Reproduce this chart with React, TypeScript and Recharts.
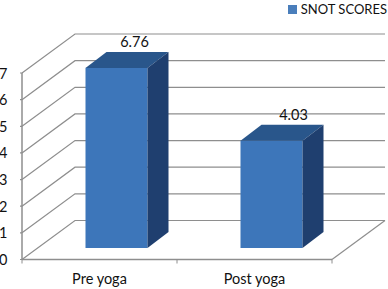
import { BarChart, Bar, XAxis, YAxis, Legend, LabelList, CartesianGrid } from "recharts";

const categories = ["Pre yoga", "Post yoga"];
const snotScores = [6.76, 4.03];
const yTicks = [0, 1, 2, 3, 4, 5, 6, 7];
const seriesName = "SNOT SCORES";

const data = categories.map((name, i) => ({ name, score: snotScores[i] }));

const FONT = "Lato, sans-serif";
const GRID = "#8e8e8e";
const TEXT = "#111111";

// wall depth of the fake 3D box
const WALL_DX = 53;
const WALL_DY = -39;
const PLOT_LEFT = 22;
const PLOT_RIGHT = 332;
const PLOT_BOTTOM = 259.5;
const BAND = (PLOT_RIGHT - PLOT_LEFT) / 2;
// bar sits in the middle of the floor, not on the front edge
const BAR_DX = 16.5;
const BAR_DY = -11.5;
const DEPTH_X = 21;
const DEPTH_Y = -16;

// grid line bent back along the side wall, then across the back wall
function WallLine({ x1, y1 }: any) {
  const isFloor = Math.abs(y1 - PLOT_BOTTOM) < 1;
  return (
    <g>
      <polyline
        points={`${x1},${y1} ${x1 + WALL_DX},${y1 + WALL_DY} ${PLOT_RIGHT + WALL_DX},${y1 + WALL_DY}`}
        fill="none"
        stroke={GRID}
        strokeWidth={1.2}
      />
      {isFloor && (
        <line
          x1={PLOT_RIGHT}
          y1={y1}
          x2={PLOT_RIGHT + WALL_DX}
          y2={y1 + WALL_DY}
          stroke={GRID}
          strokeWidth={1.2}
        />
      )}
    </g>
  );
}

function YTick({ x, y, payload }: any) {
  const axisX = x + 8;
  return (
    <g>
      <line x1={axisX - 2} y1={y} x2={axisX} y2={y} stroke={GRID} strokeWidth={1.2} />
      <text x={7.5} y={y + 5.5} textAnchor="end" fontFamily={FONT} fontSize={14.5} fill={TEXT}>
        {payload.value}
      </text>
    </g>
  );
}

function XTick({ x, y, payload, index }: any) {
  // recharts hands over y 8px below the axis line
  const axisY = y - 8;
  return (
    <g>
      {index === 0 && <line x1={x - BAND / 2} y1={axisY} x2={x - BAND / 2} y2={axisY + 4} stroke={GRID} />}
      <line x1={x + BAND / 2} y1={axisY} x2={x + BAND / 2} y2={axisY + 4} stroke={GRID} />
      <text x={x} y={axisY + 24.5} textAnchor="middle" fontFamily={FONT} fontSize={14.5} fill={TEXT}>
        {payload.value}
      </text>
    </g>
  );
}

function Box3D({ x, y, width, height }: any) {
  const left = x + BAR_DX;
  const right = left + width;
  const top = y + BAR_DY;
  const bottom = top + height;
  return (
    <g>
      <rect x={left} y={top} width={width} height={height} fill="#3d76ba" />
      <polygon
        points={`${left},${top} ${left + DEPTH_X},${top + DEPTH_Y} ${right + DEPTH_X},${top + DEPTH_Y} ${right},${top}`}
        fill="#29568b"
      />
      <polygon
        points={`${right},${top} ${right + DEPTH_X},${top + DEPTH_Y} ${right + DEPTH_X},${bottom + DEPTH_Y} ${right},${bottom}`}
        fill="#1f3f6f"
      />
    </g>
  );
}

function ValueLabel({ x, y, width, value, index }: any) {
  const shift = index === 0 ? 18 : 22;
  return (
    <text
      x={x + BAR_DX + width / 2 + shift}
      y={y + BAR_DY - 21}
      textAnchor="middle"
      fontFamily={FONT}
      fontSize={14.5}
      fill={TEXT}
    >
      {value}
    </text>
  );
}

// zero height so the legend doesn't eat into the plot area
function LegendBox() {
  return (
    <div style={{ height: 0, overflow: "visible" }}>
      <div style={{ display: "flex", alignItems: "center", justifyContent: "flex-end", fontFamily: FONT, fontSize: 13, color: TEXT, whiteSpace: "nowrap" }}>
        <span style={{ flex: "none", width: 9, height: 9, background: "#4a7ebb", marginRight: 4 }} />
        {seriesName}
      </div>
    </div>
  );
}

export default function App() {
  return (
    <div style={{ position: "absolute", left: 0, top: 0, width: 388, height: 289, background: "#fff" }}>
      <BarChart
        width={388}
        height={289}
        data={data}
        barSize={62}
        margin={{ top: 73, right: 56, bottom: 0, left: 0 }}
      >
        <CartesianGrid vertical={false} horizontal={<WallLine />} syncWithTicks />
        <YAxis
          width={22}
          domain={[0, 7]}
          ticks={yTicks}
          interval={0}
          tickLine={false}
          axisLine={{ stroke: GRID, strokeWidth: 1.5 }}
          tick={<YTick />}
        />
        <XAxis
          dataKey="name"
          height={29.5}
          tickLine={false}
          axisLine={{ stroke: GRID, strokeWidth: 1.5 }}
          tick={<XTick />}
        />
        <Legend
          content={<LegendBox />}
          wrapperStyle={{ position: "absolute", top: 1, right: 1, left: "auto", bottom: "auto", width: 110 }}
        />
        <Bar dataKey="score" name={seriesName} shape={<Box3D />} isAnimationActive={false}>
          <LabelList dataKey="score" content={<ValueLabel />} />
        </Bar>
      </BarChart>
    </div>
  );
}
